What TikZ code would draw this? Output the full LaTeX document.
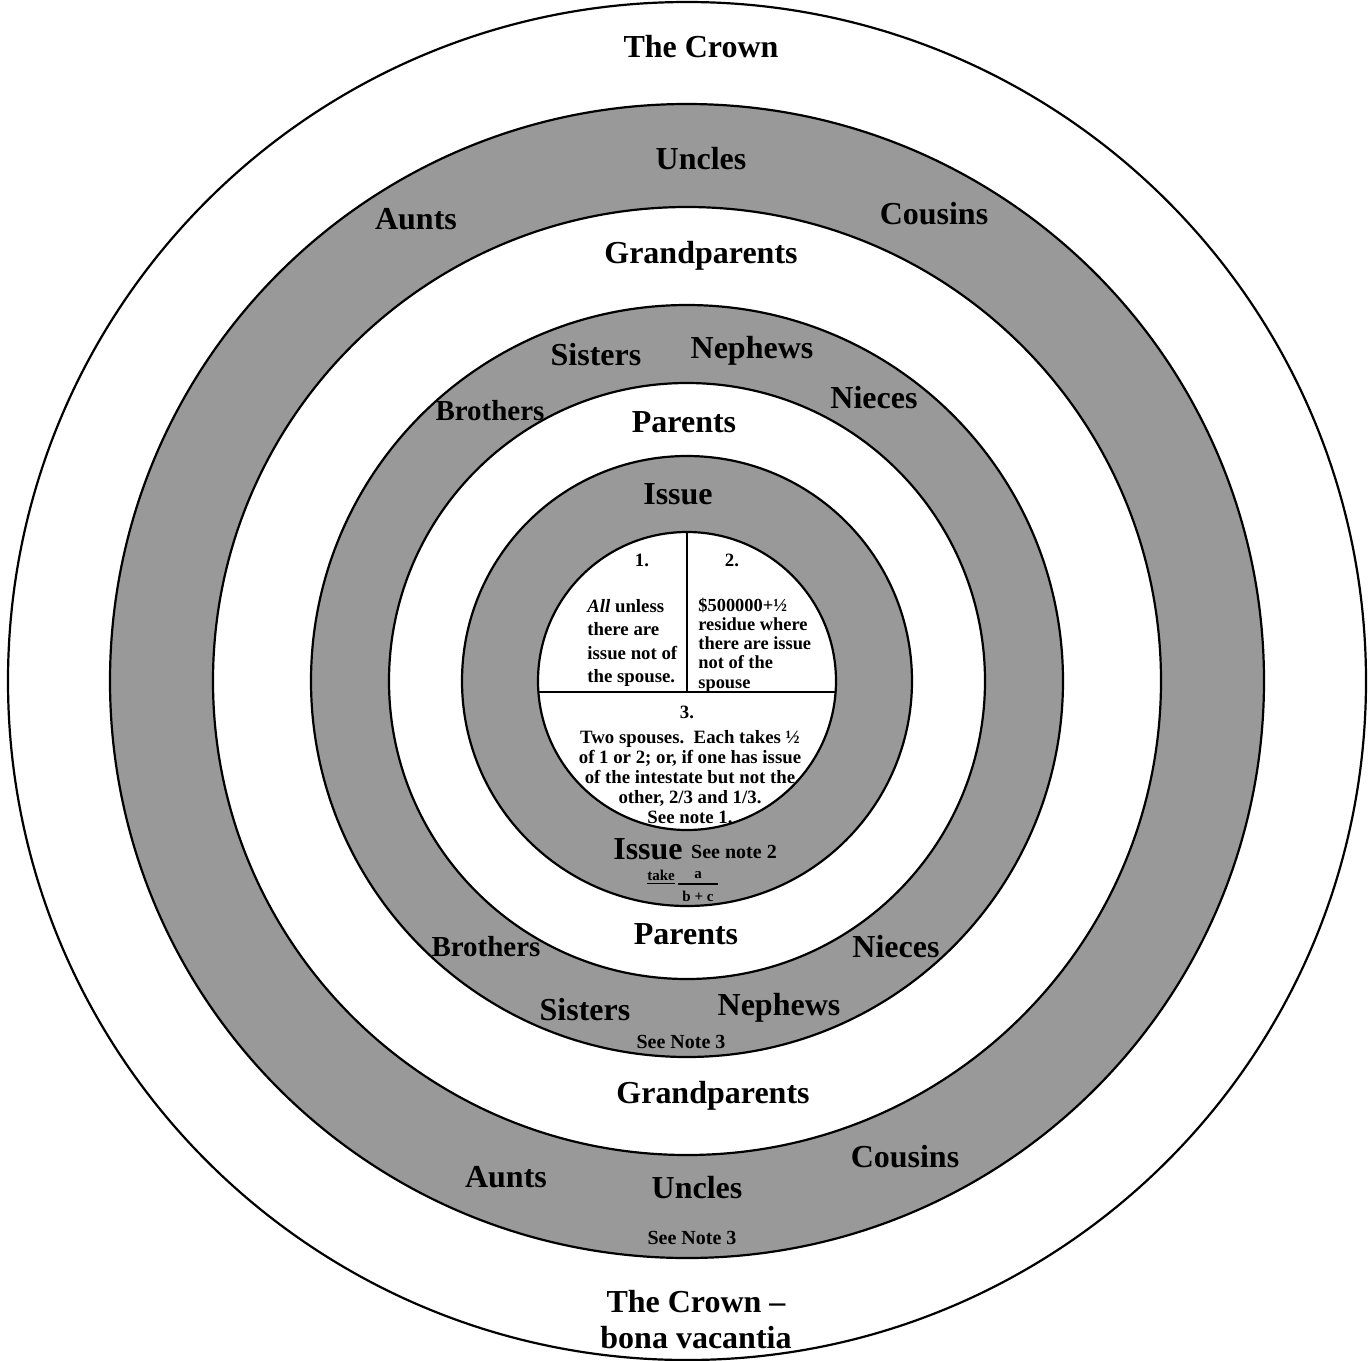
\documentclass[tikz,border=0pt]{standalone}
\usepackage{fontspec}
\setmainfont{Liberation Serif}
\begin{document}
\begin{tikzpicture}[x=0.5pt,y=-0.5pt,
  ring/.style={fill=black!40},
  hole/.style={fill=white},
  edge/.style={draw=black,line width=1.1pt},
  divider/.style={draw=black,line width=0.9pt},
  big/.style={font=\bfseries\fontsize{16}{18}\selectfont,inner sep=0pt},
  mid/.style={font=\bfseries\fontsize{14.5}{17}\selectfont,inner sep=0pt},
  note/.style={font=\bfseries\fontsize{10}{12}\selectfont,inner sep=0pt},
  tiny/.style={font=\bfseries\fontsize{7.5}{9}\selectfont,inner sep=0pt},
  inner/.style={font=\bfseries\fontsize{9.4}{10}\selectfont,inner sep=0pt}]
\useasboundingbox (0,0) rectangle (1372,1361);
\coordinate (c) at (687,681);
% rings
\fill[white] (c) circle[radius=339.5pt];
\fill[ring] (c) circle[radius=288.5pt];
\fill[hole] (c) circle[radius=237pt];
\fill[ring] (c) circle[radius=188pt];
\fill[hole] (c) circle[radius=149pt];
\fill[ring] (c) circle[radius=112.5pt];
\fill[hole] (c) circle[radius=74.5pt];
\foreach \r in {339.5,288.5,237,188,149,112.5,74.5}
  \draw[edge] (c) circle[radius=\r pt];
% inner divisions
\coordinate (vt) at (687,532);
\coordinate (vb) at (687,692);
\coordinate (hl) at (538.4,692);
\coordinate (hr) at (835.6,692);
\draw[divider] (vt) -- (vb);
\draw[divider] (hl) -- (hr);
% inner texts
\node[inner] (n1) at (642,560) {1.};
\node[inner] (n2) at (732,560) {2.};
\node[inner,align=left,anchor=west,font=\bfseries\fontsize{9.4}{11.7}\selectfont] (t1) at (587,643)
  {\textit{All} unless\\there are\\issue not of\\the spouse.};
\node[inner,align=left,anchor=west,font=\bfseries\fontsize{9.2}{9.6}\selectfont] (t2) at (698,645)
  {\$500000+½\\residue where\\there are issue\\not of the\\spouse};
\node[inner] (n3) at (687,712) {3.};
\node[inner,align=center] (t3) at (690,777)
  {Two spouses.\ \ Each takes ½\\of 1 or 2; or, if one has issue\\of the intestate but not the\\other, 2/3 and 1/3.\\See note 1.};
% Issue ring
\node[big] (issuetop) at (678,494) {Issue};
\node[big] (issuebot) at (648,849) {Issue};
\node[note] (note2) at (734,852) {See note 2};
\node[tiny] (take) at (661,877) {\underline{take}};
\node[tiny] (fa) at (698,875) {a};
\coordinate (fl) at (678,884);
\coordinate (fr) at (718,884);
\draw[line width=0.6pt] (fl) -- (fr);
\node[tiny] (fb) at (698,896) {b + c};
% Parents
\node[big] (partop) at (684,422) {Parents};
\node[big] (parbot) at (686,934) {Parents};
% siblings ring
\node[big] (sistop) at (596,355) {Sisters};
\node[big] (neptop) at (752,351) {Nephews};
\node[mid] (brotop) at (490,411) {Brothers};
\node[big] (nietop) at (874,398) {Nieces};
\node[mid] (brobot) at (486,947) {Brothers};
\node[big] (niebot) at (896,947) {Nieces};
\node[big] (sisbot) at (585,1010) {Sisters};
\node[big] (nepbot) at (779,1008) {Nephews};
\node[note] (note3a) at (681,1042) {See Note 3};
% Grandparents
\node[big] (gptop) at (701,256) {Grandparents};
\node[big] (gpbot) at (713,1096) {Grandparents};
% uncles ring
\node[big] (unctop) at (701,159) {Uncles};
\node[big] (auntop) at (416,219) {Aunts};
\node[big] (coutop) at (934,214) {Cousins};
\node[big] (coubot) at (905,1157) {Cousins};
\node[big] (aunbot) at (506,1177) {Aunts};
\node[big] (uncbot) at (697,1188) {Uncles};
\node[note] (note3b) at (692,1238) {See Note 3};
% crown
\node[big] (crowntop) at (701,47) {The Crown};
\node[big,align=center,font=\bfseries\fontsize{16}{18}\selectfont] (crownbot) at (696,1320) {The Crown --\\bona vacantia};
\end{tikzpicture}
\end{document}
